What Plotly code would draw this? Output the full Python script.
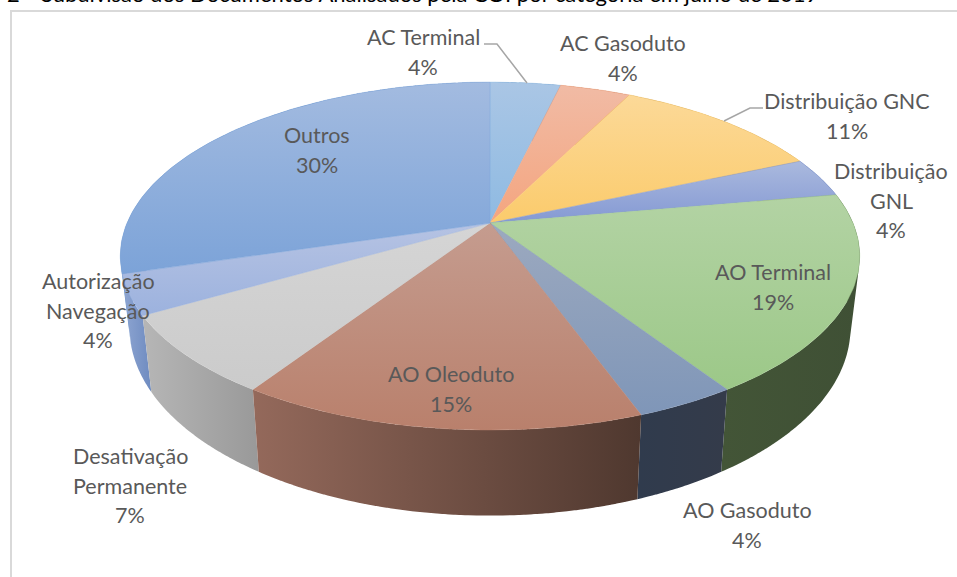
import math
import plotly.graph_objects as go

categories = ["AC Terminal", "AC Gasoduto", "Distribuição GNC", "Distribuição GNL", "AO Terminal",
              "AO Gasoduto", "AO Oleoduto", "Desativação Permanente", "Autorização Navegação", "Outros"]
documents = [1, 1, 3, 1, 5, 1, 4, 2, 1, 8]
label_lines = [["AC Terminal"], ["AC Gasoduto"], ["Distribuição GNC"], ["Distribuição", "GNL"], ["AO Terminal"],
               ["AO Gasoduto"], ["AO Oleoduto"], ["Desativação", "Permanente"], ["Autorização", "Navegação"], ["Outros"]]
caption = "Subdivisão dos Documentos Analisados pela COI por categoria em julho de 2019"

# Styles (separate from the data)
top_colors = [("#AAC6E5", "#8EBAE2"), ("#F1BBA5", "#F4A57F"), ("#FCD998", "#FBCB6C"), ("#AAB9DE", "#8499D3"),
              ("#B3D3A4", "#9CC888"), ("#9CA9BF", "#7F96B8"), ("#C59C8F", "#B9806C"), ("#D5D5D5", "#CBCBCB"),
              ("#B6C3E3", "#9CB2DE"), ("#A3BBE0", "#7CA3D8")]
wall_colors = [("#6F9AC8", "#5F8ABB"), ("#C98A6E", "#B87A5C"), ("#CCA660", "#B8934F"), ("#6D80B5", "#5F73A8"),
               ("#435537", "#3F5035"), ("#303B4D", "#343B4A"), ("#94695B", "#4F382F"), ("#B6B6B6", "#999999"),
               ("#8FA6D2", "#6E8BC0"), ("#6F97CC", "#6690C8")]
label_pos = [(423, 37), (623, 43), (847, 101), (891, 171), (773, 272), (747, 510), (451, 374), (130, 456), (98, 281), (317, 135)]
LINE_STEP = 29.5
W, H = 957, 577
CX, CY, R, B, K = 490, 223, 363, 167.7, 0.19          # perspective of the top disc
WX, WY, WSY, WCY = 0.975, 292, 1.08, 223              # mapping of the top disc onto the bottom disc


def top_point(deg):
    t = math.radians(deg)
    d = 1 + K * math.cos(t)
    return CX + R * math.sin(t) / d, CY - B * math.cos(t) / d


def bottom_point(deg):
    x, y = top_point(deg)
    return CX + WX * (x - CX), WY + WSY * (y - WCY)


total = sum(documents)
spans, acc = [], 0
for v in documents:
    spans.append((acc / total * 360, (acc + v) / total * 360))
    acc += v


def grad(kind, pair):
    return dict(type=kind, colorscale=[[0, pair[0]], [1, pair[1]]])


fig = go.Figure()

# Side walls: quads swept along each slice's outer edge, back to front
order = sorted(range(len(documents)), key=lambda i: top_point(sum(spans[i]) / 2)[1])
for i in order:
    a0, a1 = spans[i]
    n = max(6, int((a1 - a0) / 0.75))
    xs, ys = [], []
    for j in range(n):
        s0 = a0 + (a1 - a0) * j / n
        s1 = a0 + (a1 - a0) * min(j + 1.4, n) / n
        quad = [top_point(s0), top_point(s1), bottom_point(s1), bottom_point(s0)]
        area = sum(quad[q][0] * quad[(q + 1) % 4][1] - quad[(q + 1) % 4][0] * quad[q][1] for q in range(4))
        if area < 0:
            quad.reverse()
        xs += [p[0] for p in quad] + [quad[0][0], None]
        ys += [p[1] for p in quad] + [quad[0][1], None]
    fig.add_trace(go.Scatter(x=xs, y=ys, mode="lines", fill="toself", line=dict(width=0),
                             fillgradient=grad("horizontal", wall_colors[i]), hoverinfo="skip", showlegend=False))

# Top faces
for i, (a0, a1) in enumerate(spans):
    n = max(8, int(a1 - a0))
    pts = [(CX, CY)] + [top_point(a0 + (a1 - a0) * j / n) for j in range(n + 1)] + [(CX, CY)]
    # colour runs from the upper to the lower edge of the slice
    fig.add_trace(go.Scatter(x=[p[0] for p in pts], y=[p[1] for p in pts], mode="lines", fill="toself",
                             line=dict(width=0.4, color=top_colors[i][1]),
                             fillgradient=dict(type="vertical", colorscale=[[0, top_colors[i][1]], [1, top_colors[i][0]]]),
                             hoverinfo="skip", showlegend=False))

# Leader lines
leader = dict(color="#A6A6A6", width=1.5)
for lx, ly in [([484, 497, 527], [44, 44, 83]), ([763, 750, 724], [108, 108, 121])]:
    fig.add_trace(go.Scatter(x=lx, y=ly, mode="lines", line=leader, hoverinfo="skip", showlegend=False))

# Labels
annotations = []
for lines, v, (lx, ly) in zip(label_lines, documents, label_pos):
    for k, text in enumerate(lines + [f"{round(v / total * 100)}%"]):
        annotations.append(dict(x=lx, y=ly + k * LINE_STEP, text=text, showarrow=False, xanchor="center",
                                yanchor="middle", font=dict(family="Lato", size=21.5, color="#595959")))
annotations.append(dict(x=39, y=9, text=caption, showarrow=False, xanchor="left", yanchor="bottom",
                        font=dict(family="Lato", size=22, color="#000000")))
annotations.append(dict(x=5, y=9, text="2", showarrow=False, xanchor="left", yanchor="bottom",
                        font=dict(family="Lato", size=22, color="#000000")))

shapes = [dict(type="line", x0=11, x1=11, y0=11, y1=H, line=dict(color="#D9D9D9", width=2)),
          dict(type="line", x0=10, x1=W, y0=11, y1=11, line=dict(color="#D9D9D9", width=2))]

fig.update_layout(width=W, height=H, margin=dict(l=0, r=0, t=0, b=0), paper_bgcolor="white", plot_bgcolor="white",
                  xaxis=dict(range=[0, W], visible=False, fixedrange=True),
                  yaxis=dict(range=[H, 0], visible=False, fixedrange=True),
                  annotations=annotations, shapes=shapes, showlegend=False)
fig.write_html("out.html", config=dict(displayModeBar=False),
               post_script="document.body.style.margin='0';document.documentElement.style.overflow='hidden';")
